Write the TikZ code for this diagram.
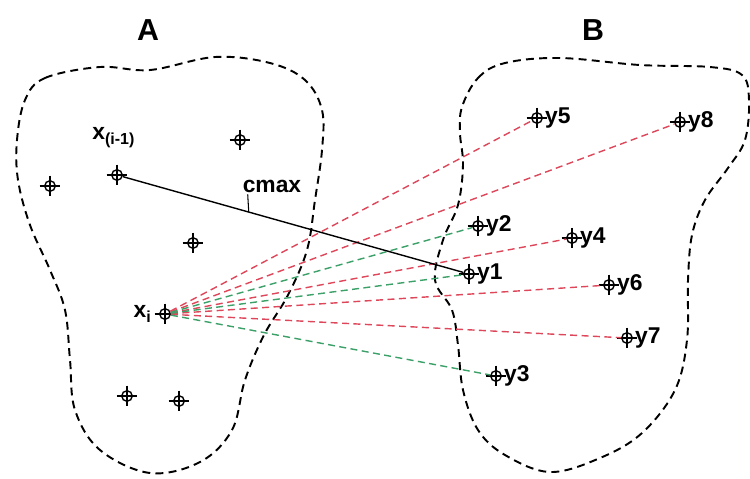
\documentclass[tikz,border=0pt]{standalone}
\usepackage{fontspec}
\setmainfont{Liberation Sans}
\usetikzlibrary{positioning}
\definecolor{lred}{RGB}{222,70,90}
\definecolor{lgreen}{RGB}{60,160,105}
\tikzset{
  pnt/.style={circle, draw, line width=0.8pt, inner sep=0pt, minimum size=6pt},
  arm/.style={line width=0.8pt},
  lbl/.style={font=\bfseries\fontsize{13}{15}\selectfont, inner sep=1pt},
  blob/.style={line width=1.1pt, dash pattern=on 4.5pt off 3pt},
  redln/.style={lred, line width=0.8pt, dash pattern=on 4pt off 2.5pt},
  grnln/.style={lgreen, line width=0.8pt, dash pattern=on 4pt off 2.5pt}
}
\begin{document}
\begin{tikzpicture}[x=0.02cm, y=-0.02cm]
	    \useasboundingbox (0,0) rectangle (750,478);
	    % Mengen A und B
	    \node[font=\bfseries\LARGE] (setA) at (148,30) {A};
	    \node[font=\bfseries\LARGE] (setB) at (593,30) {B};
	    \draw[blob] plot[smooth cycle, tension=0.6] coordinates {
	      (25,100) (45,78) (100,67) (150,70) (215,57) (270,63) (305,80)
	      (322,110) (322,150) (315,200) (307,250) (288,295) (264,335)
	      (245,380) (232,430) (200,462) (150,473) (100,450) (75,410)
	      (70,360) (65,310) (50,270) (30,225) (18,180) (17,140)};
	    \draw[blob] plot[smooth cycle, tension=0.6] coordinates {
	      (462,107) (478,78) (505,63) (560,58) (640,65) (710,67) (742,75)
	      (749,100) (745,140) (728,168) (705,200) (692,235) (688,280)
	      (687,340) (675,390) (642,433) (600,458) (550,472) (505,455)
	      (478,430) (463,390) (458,345) (452,310) (435,280) (443,240)
	      (458,205) (463,165) (460,133)};
	
	    % Punkte in A
	    \node[pnt] (xprev) at (117,175) {};
	    \node[pnt] (xi) at (165,314) {};
	    \node[pnt] (a1) at (50,186) {};
	    \node[pnt] (a2) at (240,140) {};
	    \node[pnt] (a3) at (193,243) {};
	    \node[pnt] (a4) at (127,396) {};
	    \node[pnt] (a5) at (179,401) {};
	    \node[lbl, above left=12pt and -14pt of xprev] (lprev) {x\textsubscript{(i-1)}};
	    \node[lbl, left=3pt of xi] (lxi) {x\textsubscript{i}};
	
	    % Punkte in B
	    \node[pnt, label={[lbl]right:y1}] (y1) at (469,274) {};
	    \node[pnt, label={[lbl]right:y2}] (y2) at (478,226) {};
	    \node[pnt, label={[lbl]right:y3}] (y3) at (496,376) {};
	    \node[pnt, label={[lbl]right:y4}] (y4) at (572,238) {};
	    \node[pnt, label={[lbl]right:y5}] (y5) at (537,118) {};
	    \node[pnt, label={[lbl]right:y6}] (y6) at (609,285) {};
	    \node[pnt, label={[lbl]right:y7}] (y7) at (627,338) {};
	    \node[pnt, label={[lbl]right:y8}] (y8) at (680,122) {};
	
	    % Kreuze
	    \foreach \p in {xprev,xi,a1,a2,a3,a4,a5,y1,y2,y3,y4,y5,y6,y7,y8}
	      \draw[arm] ([yshift=2.5pt]\p.north) -- ([yshift=-2.5pt]\p.south)
	                 ([xshift=-2.5pt]\p.west) -- ([xshift=2.5pt]\p.east);
	
	    % Verbindungen von x_i
	    \foreach \t in {y5,y8,y4,y6,y7}
	      \draw[redln] (xi) -- (\t);
	    \foreach \t in {y2,y1,y3}
	      \draw[grnln] (xi) -- (\t);
	
	    % cmax
	    \draw[line width=0.8pt] (xprev) -- (y1) coordinate[pos=0.37] (cpt);
	    \node[lbl] (cmax) at (272,186) {cmax};
	    \draw[line width=0.6pt] (cmax.south west) ++(4pt,0) -- (cpt);
\end{tikzpicture}
\end{document}
